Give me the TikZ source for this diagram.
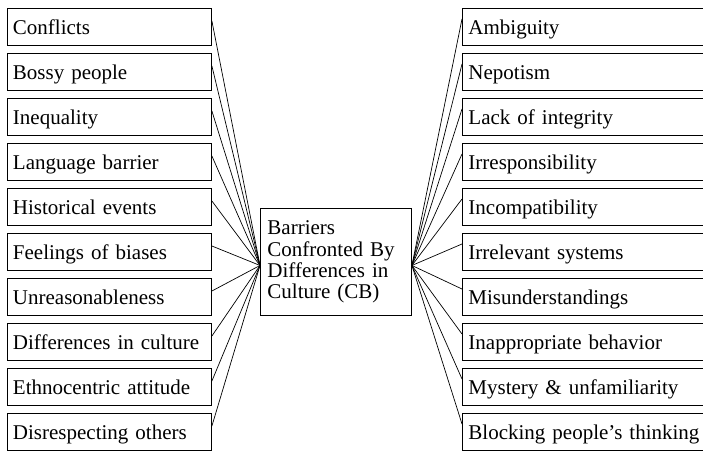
\documentclass[tikz,border=0pt]{standalone}
\usepackage{fontspec}
\setmainfont{Liberation Serif}
\begin{document}
\begin{tikzpicture}[x=1pt,y=-1pt,
  txt/.style={font=\fontsize{21}{21.3}\selectfont},
  boxbase/.style={txt, draw, line width=0.9pt, anchor=north west, align=left,
    minimum height=37pt, inner ysep=0pt, text height=14.5pt, text depth=0pt},
  lbox/.style={boxbase, minimum width=204pt, text width=193pt, inner xsep=5.5pt},
  rbox/.style={boxbase, minimum width=262pt, text width=250pt, inner xsep=6pt},
  cbox/.style={txt, draw, line width=0.9pt, anchor=north west, align=left,
    minimum width=151pt, minimum height=107pt, text width=137pt, inner xsep=7pt},
  link/.style={line width=0.7pt}]
\useasboundingbox (0,0) rectangle (703,450);
\clip (0,0) rectangle (703,450);
% left boxes
\node[lbox] (L1)  at (7,8)   {Conflicts};
\node[lbox] (L2)  at (7,53)  {Bossy people};
\node[lbox] (L3)  at (7,98)  {Inequality};
\node[lbox] (L4)  at (7,143) {Language barrier};
\node[lbox] (L5)  at (7,188) {Historical events};
\node[lbox] (L6)  at (7,233) {Feelings of biases};
\node[lbox] (L7)  at (7,278) {Unreasonableness};
\node[lbox] (L8)  at (7,323) {Differences in culture};
\node[lbox] (L9)  at (7,368) {Ethnocentric attitude};
\node[lbox] (L10) at (7,413) {Disrespecting others};
% right boxes
\node[rbox] (R1)  at (462,8)   {Ambiguity};
\node[rbox] (R2)  at (462,53)  {Nepotism};
\node[rbox] (R3)  at (462,98)  {Lack of integrity};
\node[rbox] (R4)  at (462,143) {Irresponsibility};
\node[rbox] (R5)  at (462,188) {Incompatibility};
\node[rbox] (R6)  at (462,233) {Irrelevant systems};
\node[rbox] (R7)  at (462,278) {Misunderstandings};
\node[rbox] (R8)  at (462,323) {Inappropriate behavior};
\node[rbox] (R9)  at (462,368) {Mystery \& unfamiliarity};
\node[rbox] (R10) at (462,413) {Blocking people’s thinking};
% center box
\node[cbox] (cb) at (260,208) {Barriers\\Confronted By\\Differences in\\Culture (CB)};
% connectors
\foreach \i in {1,...,10}{
  \draw[link] ([yshift=-13pt]L\i.north east) -- ([yshift=-3.5pt]cb.west);
  \draw[link] ([yshift=-3.5pt]cb.east) -- ([yshift=-11pt]R\i.north west);
}
\end{tikzpicture}
\end{document}
